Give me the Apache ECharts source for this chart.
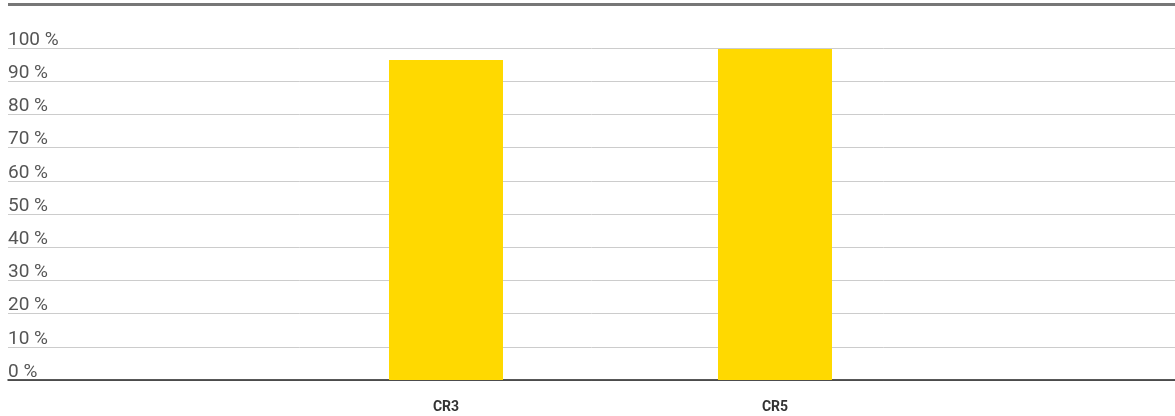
<!DOCTYPE html>
<html>
<head>
<meta charset="utf-8">
<script src="https://cdn.jsdelivr.net/npm/echarts@6/dist/echarts.min.js"></script>
<style>
  html, body { margin: 0; padding: 0; background: #fff; }
  #chart { width: 1175px; height: 416px; }
</style>
</head>
<body>
<div id="chart"></div>
<script>
// --- data ---
const categories = ['CR3', 'CR5'];
const shares = [96.4, 99.7];
const yTicks = [0, 10, 20, 30, 40, 50, 60, 70, 80, 90, 100];

const FONT = '"Liberation Sans Narrow", "Roboto", sans-serif';
const COLORS = {
  bar: '#FFD900',
  grid: '#cccccc',
  axis: '#222222',
  text: '#555555',
  label: '#333333',
  rule: '#777777'
};

const chart = echarts.init(document.getElementById('chart'));

const option = {
  animation: false,
  backgroundColor: '#fff',
  graphic: [
    // top rule
    { type: 'rect', left: 8, top: 3, shape: { width: 1167, height: 3 }, style: { fill: COLORS.rule } }
  ],
  grid: [
    { left: 8, right: 0, top: 48, bottom: 36, containLabel: false },
    { left: 281.5, right: 235.5, top: 48, bottom: 36, containLabel: false }
  ],
  xAxis: [
    {
      type: 'value',
      gridIndex: 0,
      min: 0, max: 1,
      axisLine: { show: true, onZero: false, lineStyle: { color: COLORS.axis, width: 1.5 } },
      axisTick: { show: false },
      axisLabel: { show: false },
      splitLine: { show: false }
    },
    {
      type: 'category',
      gridIndex: 1,
      data: categories,
      axisLine: { show: false },
      axisTick: { show: false },
      axisLabel: {
        margin: 20,
        color: COLORS.label,
        fontFamily: FONT,
        fontWeight: 'bold',
        fontSize: 14
      }
    }
  ],
  yAxis: [
    {
      type: 'value',
      gridIndex: 0,
      min: 0, max: 100, interval: 10,
      axisLine: { show: false },
      axisTick: { show: false },
      splitLine: { show: true, lineStyle: { color: COLORS.grid, width: 1 } },
      axisLabel: {
        inside: true,
        margin: 0,
        align: 'left',
        verticalAlign: 'bottom',
        lineHeight: 16,
        padding: 0,
        color: COLORS.text,
        fontFamily: FONT,
        fontSize: 19,
        formatter: (v) => yTicks.includes(v) ? v + ' %' : ''
      }
    },
    {
      type: 'value',
      gridIndex: 1,
      min: 0, max: 100,
      show: false
    }
  ],
  series: [
    {
      type: 'bar',
      xAxisIndex: 1,
      yAxisIndex: 1,
      data: shares,
      barWidth: 114,
      itemStyle: { color: COLORS.bar },
      z: 1
    }
  ]
};

chart.setOption(option);
</script>
</body>
</html>
